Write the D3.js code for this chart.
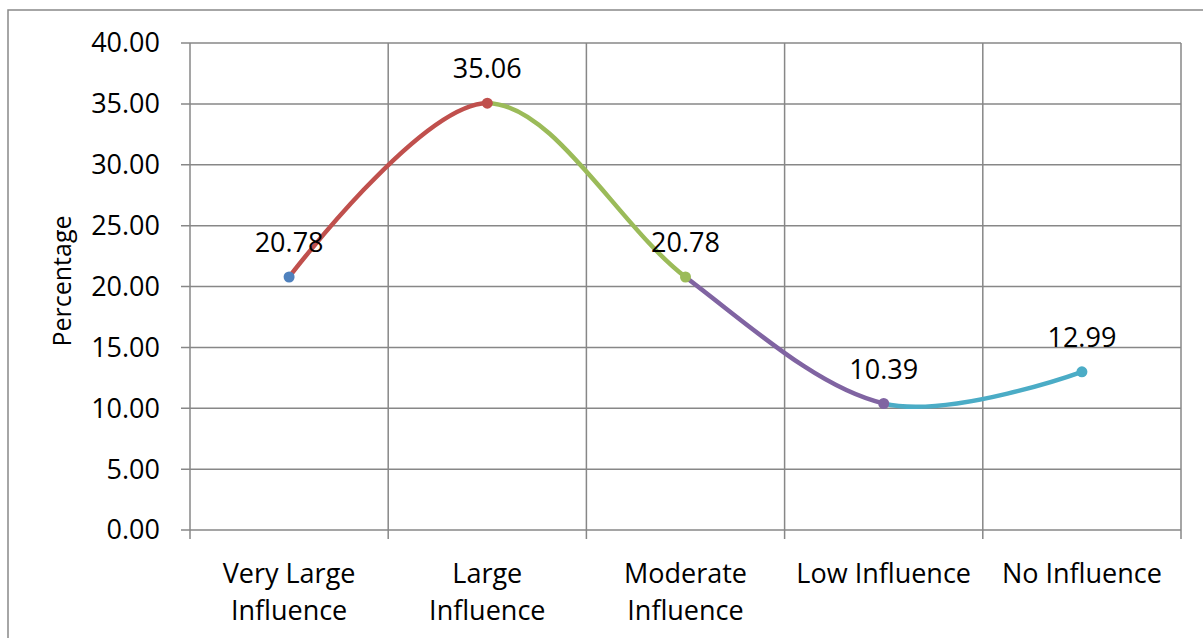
<!DOCTYPE html>
<html><head><meta charset="utf-8">
<script src="https://cdn.jsdelivr.net/npm/d3@7"></script>
<style>
html,body{margin:0;padding:0;background:#fff;}
svg text{font-family:"Open Sans",Carlito,Calibri,sans-serif;fill:#000;}
</style></head>
<body>
<svg id="chart" width="1203" height="638"></svg>
<script>
const categories = [["Very Large","Influence"],["Large","Influence"],["Moderate","Influence"],["Low Influence"],["No Influence"]];
const values = [20.78, 35.06, 20.78, 10.39, 12.99];
const pointColors = ["#4F81BD","#C0504D","#9BBB59","#8064A2","#4BACC6"];
const yTicks = [0,5,10,15,20,25,30,35,40];
const yTitle = "Percentage";

const svg = d3.select("#chart");
const M = {left:190, top:43, right:1181, bottom:530};
const FS = 27;

// outer border
svg.append("rect").attr("x",8).attr("y",10).attr("width",1300).attr("height",700)
  .attr("fill","none").attr("stroke","#898989").attr("stroke-width",1.5);

const x = d3.scaleBand().domain(d3.range(categories.length)).range([M.left,M.right]).padding(0);
const y = d3.scaleLinear().domain([0,40]).range([M.bottom,M.top]);
const cx = i => x(i)+x.bandwidth()/2;

const grid = svg.append("g").attr("stroke","#878787").attr("stroke-width",1.5);
grid.selectAll("line.h").data(yTicks).join("line")
  .attr("x1",M.left-9).attr("x2",M.right).attr("y1",d=>y(d)).attr("y2",d=>y(d));
const bounds = d3.range(categories.length+1).map(i => i<categories.length ? x(i) : M.right);
grid.selectAll("line.v").data(bounds).join("line")
  .attr("x1",d=>d).attr("x2",d=>d).attr("y1",M.top).attr("y2",M.bottom+9);

// y tick labels
svg.append("g").selectAll("text").data(yTicks).join("text")
  .attr("x",160).attr("y",d=>y(d)).attr("dy","0.35em")
  .attr("text-anchor","end").attr("font-size",FS)
  .text(d=>d.toFixed(2));

// category labels
const cl = svg.append("g").selectAll("text").data(categories).join("text")
  .attr("text-anchor","middle").attr("font-size",FS);
cl.each(function(lines,i){
  d3.select(this).selectAll("tspan").data(lines).join("tspan")
    .attr("x",cx(i)).attr("y",(d,j)=>583+j*37).text(d=>d);
});

// y title
svg.append("text").attr("transform",`translate(71,281) rotate(-90)`)
  .attr("text-anchor","middle").attr("font-size",25).text(yTitle);

// smooth line, split into colored segments via clip
const pts = values.map((v,i)=>[cx(i),y(v)]);
const line = d3.line().curve(d3.curveCardinal.tension(0));
const defs = svg.append("defs");
for(let i=0;i<values.length-1;i++){
  defs.append("clipPath").attr("id","seg"+i).append("rect")
    .attr("x",cx(i)).attr("y",0).attr("width",cx(i+1)-cx(i)).attr("height",638);
  svg.append("path").attr("d",line(pts)).attr("fill","none")
    .attr("stroke",pointColors[i+1]).attr("stroke-width",4.5)
    .attr("stroke-linecap","round")
    .attr("clip-path",`url(#seg${i})`);
}
// markers
svg.append("g").selectAll("circle").data(values).join("circle")
  .attr("cx",(d,i)=>cx(i)).attr("cy",d=>y(d)).attr("r",5.5)
  .attr("fill",(d,i)=>pointColors[i]);

// data labels
svg.append("g").selectAll("text").data(values).join("text")
  .attr("x",(d,i)=>cx(i)).attr("y",d=>y(d)-25)
  .attr("text-anchor","middle").attr("font-size",FS)
  .text(d=>d.toFixed(2));
</script>
</body></html>
